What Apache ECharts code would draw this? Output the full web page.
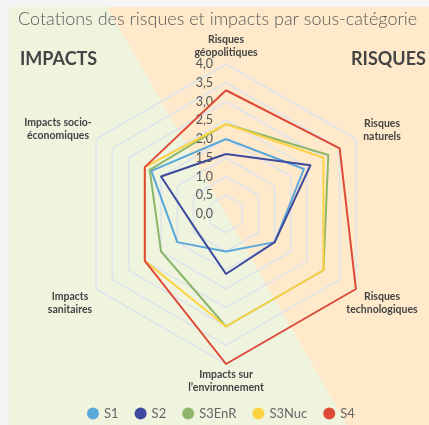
<!DOCTYPE html>
<html>
<head>
<meta charset="utf-8">
<script src="https://cdn.jsdelivr.net/npm/echarts@6/dist/echarts.min.js"></script>
<style>
  html, body { margin: 0; padding: 0; background: #f4f4f4; }
  #chart { width: 429px; height: 425px; }
</style>
</head>
<body>
<div id="chart"></div>
<script>
// axes, in counter-clockwise order starting at the top
const indicators = [
  'Risques\ngéopolitiques',
  'Impacts socio-\néconomiques',
  'Impacts\nsanitaires',
  'Impacts sur\nl’environnement',
  'Risques\ntechnologiques',
  'Risques\nnaturels'
]
const seriesNames = ['S1', 'S2', 'S3EnR', 'S3Nuc', 'S4']
const colors = ['#5aa7da', '#3e4a9b', '#8db66b', '#fcd443', '#de4a37']
// géo, socio, sanitaires, environnement, techno, naturels
const s1 = [2.0, 2.3, 1.5, 1.0, 1.5, 2.4]
const s2 = [1.6, 2.0, 0.9, 1.6, 1.5, 2.6]
const s3EnR = [2.4, 2.35, 2.0, 3.0, 3.0, 3.15]
const s3Nuc = [2.4, 2.5, 2.5, 3.0, 3.0, 3.0]
const s4 = [3.3, 2.5, 2.5, 4.0, 4.0, 3.5]
const values = [s1, s2, s3EnR, s3Nuc, s4]

// where each axis name sits (centre x, top y)
const namePos = [[226, 33], [58, 116], [70, 290], [226, 368], [382, 290], [382, 117]]

const chart = echarts.init(document.getElementById('chart'))
const font = 'Lato, "Noto Sans", sans-serif'

const nameTexts = indicators.map((n, i) => ({
  type: 'text',
  x: namePos[i][0],
  y: namePos[i][1],
  style: {
    text: n,
    align: 'center',
    verticalAlign: 'top',
    font: 'bold 10.5px ' + font,
    lineHeight: 13,
    fill: '#444'
  }
}))

chart.setOption({
  animation: false,
  color: colors,
  graphic: [
    { type: 'rect', z: -10, shape: { x: 9, y: 7, width: 420, height: 418 }, style: { fill: '#eff4df' } },
    { type: 'polygon', z: -9, shape: { points: [[107, 7], [429, 7], [429, 425], [347, 425]] }, style: { fill: '#feeacb' } },
    { type: 'text', left: 18, top: 10, style: { text: 'Cotations des risques et impacts par sous-catégorie', font: '300 18px ' + font, fill: '#5a5a5a' } },
    { type: 'text', left: 20, top: 50, style: { text: 'IMPACTS', font: 'bold 18px ' + font, fill: '#444' } },
    { type: 'text', left: 351, top: 50, style: { text: 'RISQUES', font: 'bold 18px ' + font, fill: '#444' } }
  ].concat(nameTexts),
  legend: {
    bottom: 0,
    left: 82,
    icon: 'circle',
    itemWidth: 12,
    itemHeight: 12,
    itemGap: 16,
    textStyle: { fontFamily: font, fontSize: 13, color: '#666' },
    data: seriesNames
  },
  radar: {
    center: [226, 214],
    radius: 150,
    startAngle: 90,
    shape: 'polygon',
    splitNumber: 8,
    indicator: indicators.map((n, i) => ({
      name: n, min: 0, max: 4,
      axisLabel: i === 0 ? { show: true } : undefined
    })),
    axisName: { show: false },
    axisLine: { show: false },
    axisTick: { show: false },
    axisLabel: {
      show: false,
      fontFamily: font,
      fontSize: 12.5,
      color: '#555',
      margin: 13,
      formatter: v => v.toFixed(1).replace('.', ',')
    },
    splitLine: { lineStyle: { color: '#dfe3ec', width: 1.5 } },
    splitArea: { show: false }
  },
  series: [{
    type: 'radar',
    symbol: 'none',
    lineStyle: { width: 2 },
    data: seriesNames.map((n, i) => ({
      name: n,
      value: values[i],
      lineStyle: { color: colors[i], width: 2 },
      itemStyle: { color: colors[i] }
    }))
  }]
})
</script>
</body>
</html>
